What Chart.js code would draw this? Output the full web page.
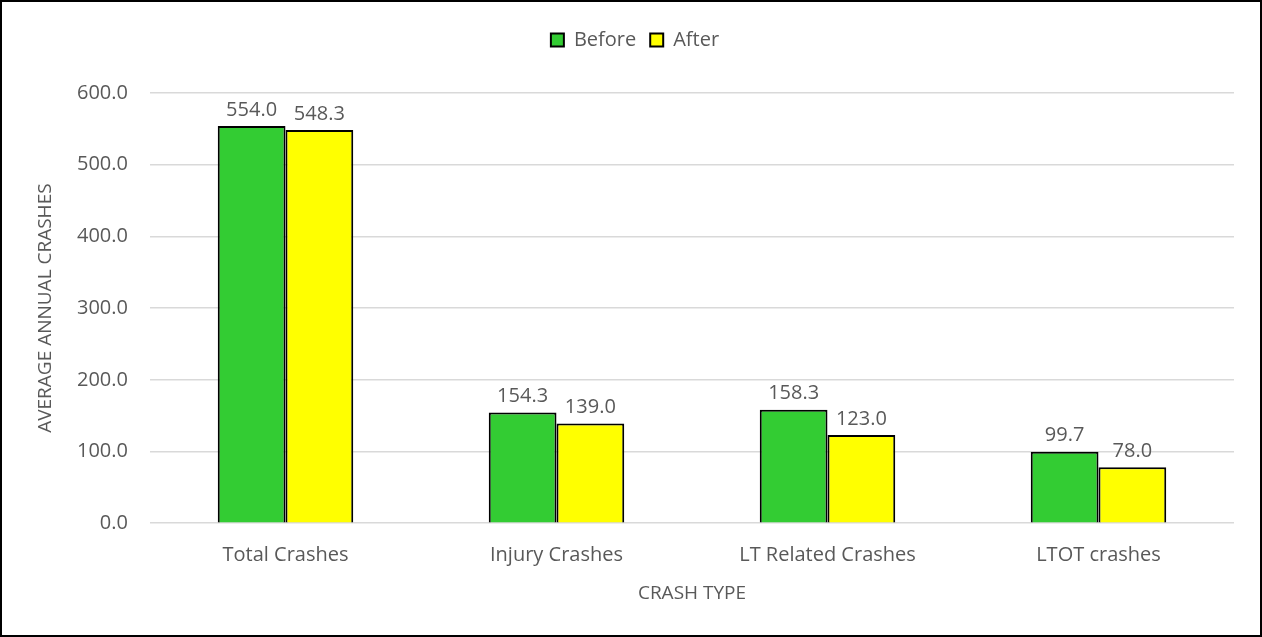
<!DOCTYPE html>
<html>
<head>
<meta charset="utf-8">
<script src="https://cdn.jsdelivr.net/npm/chart.js@4"></script>
<style>
  html, body { margin: 0; padding: 0; background: #fff; }
  #wrap {
    width: 1262px; height: 637px; box-sizing: border-box;
    border: 2px solid #000; background: #fff;
  }
</style>
</head>
<body>
<div id="wrap"><canvas id="crashChart" width="1258" height="633"></canvas></div>
<script>
  var crashTypes = ['Total Crashes', 'Injury Crashes', 'LT Related Crashes', 'LTOT crashes'];
  var beforeValues = [554.0, 154.3, 158.3, 99.7];
  var afterValues = [548.3, 139.0, 123.0, 78.0];
  var seriesNames = ['Before', 'After'];

  var textColor = '#595959';
  var fontFamily = '"Open Sans", "Liberation Sans", sans-serif';

  // writes each bar's value above it, one decimal
  var valueLabels = {
    id: 'valueLabels',
    afterDatasetsDraw: function(chart) {
      var ctx = chart.ctx;
      ctx.save();
      ctx.fillStyle = textColor;
      ctx.font = '20px ' + fontFamily;
      ctx.textAlign = 'center';
      ctx.textBaseline = 'bottom';
      chart.data.datasets.forEach(function(ds, i) {
        chart.getDatasetMeta(i).data.forEach(function(bar, j) {
          ctx.fillText(ds.data[j].toFixed(1), bar.x, bar.y - 6);
        });
      });
      ctx.restore();
    }
  };

  // extra room under the legend
  var legendGap = {
    id: 'legendGap',
    beforeInit: function(chart) {
      var fit = chart.legend.fit;
      chart.legend.fit = function() {
        fit.bind(chart.legend)();
        this.height += 33;
      };
    }
  };

  new Chart(document.getElementById('crashChart'), {
    type: 'bar',
    data: {
      labels: crashTypes,
      datasets: [
        {
          label: seriesNames[0],
          data: beforeValues,
          backgroundColor: '#33CC33',
          borderColor: '#000',
          borderWidth: 2,
          categoryPercentage: 0.5,
          barPercentage: 1.0
        },
        {
          label: seriesNames[1],
          data: afterValues,
          backgroundColor: '#FFFF00',
          borderColor: '#000',
          borderWidth: 2,
          categoryPercentage: 0.5,
          barPercentage: 1.0
        }
      ]
    },
    options: {
      responsive: false,
      animation: false,
      layout: { padding: { left: 34, right: 26, top: 14, bottom: 30 } },
      plugins: {
        legend: {
          position: 'top',
          labels: {
            color: textColor,
            font: { size: 20, family: fontFamily },
            boxWidth: 13,
            boxHeight: 13,
            padding: 14
          }
        },
        tooltip: { enabled: false }
      },
      scales: {
        x: {
          grid: { display: false },
          border: { display: false },
          ticks: { color: textColor, font: { size: 20, family: fontFamily }, padding: 12 },
          title: {
            display: true,
            text: 'CRASH TYPE',
            color: textColor,
            font: { size: 19, family: fontFamily },
            padding: { top: 3, bottom: 0 }
          }
        },
        y: {
          min: 0,
          max: 600,
          grid: { color: '#d9d9d9', lineWidth: 1.5, drawTicks: false },
          border: { display: false },
          ticks: {
            stepSize: 100,
            color: textColor,
            font: { size: 20, family: fontFamily },
            padding: 22,
            callback: function(v) { return v.toFixed(1); }
          },
          title: {
            display: true,
            text: 'AVERAGE ANNUAL CRASHES',
            color: textColor,
            font: { size: 19, family: fontFamily, lineHeight: 1 },
            padding: { top: 0, bottom: 0 }
          }
        }
      }
    },
    plugins: [valueLabels, legendGap]
  });
</script>
</body>
</html>
